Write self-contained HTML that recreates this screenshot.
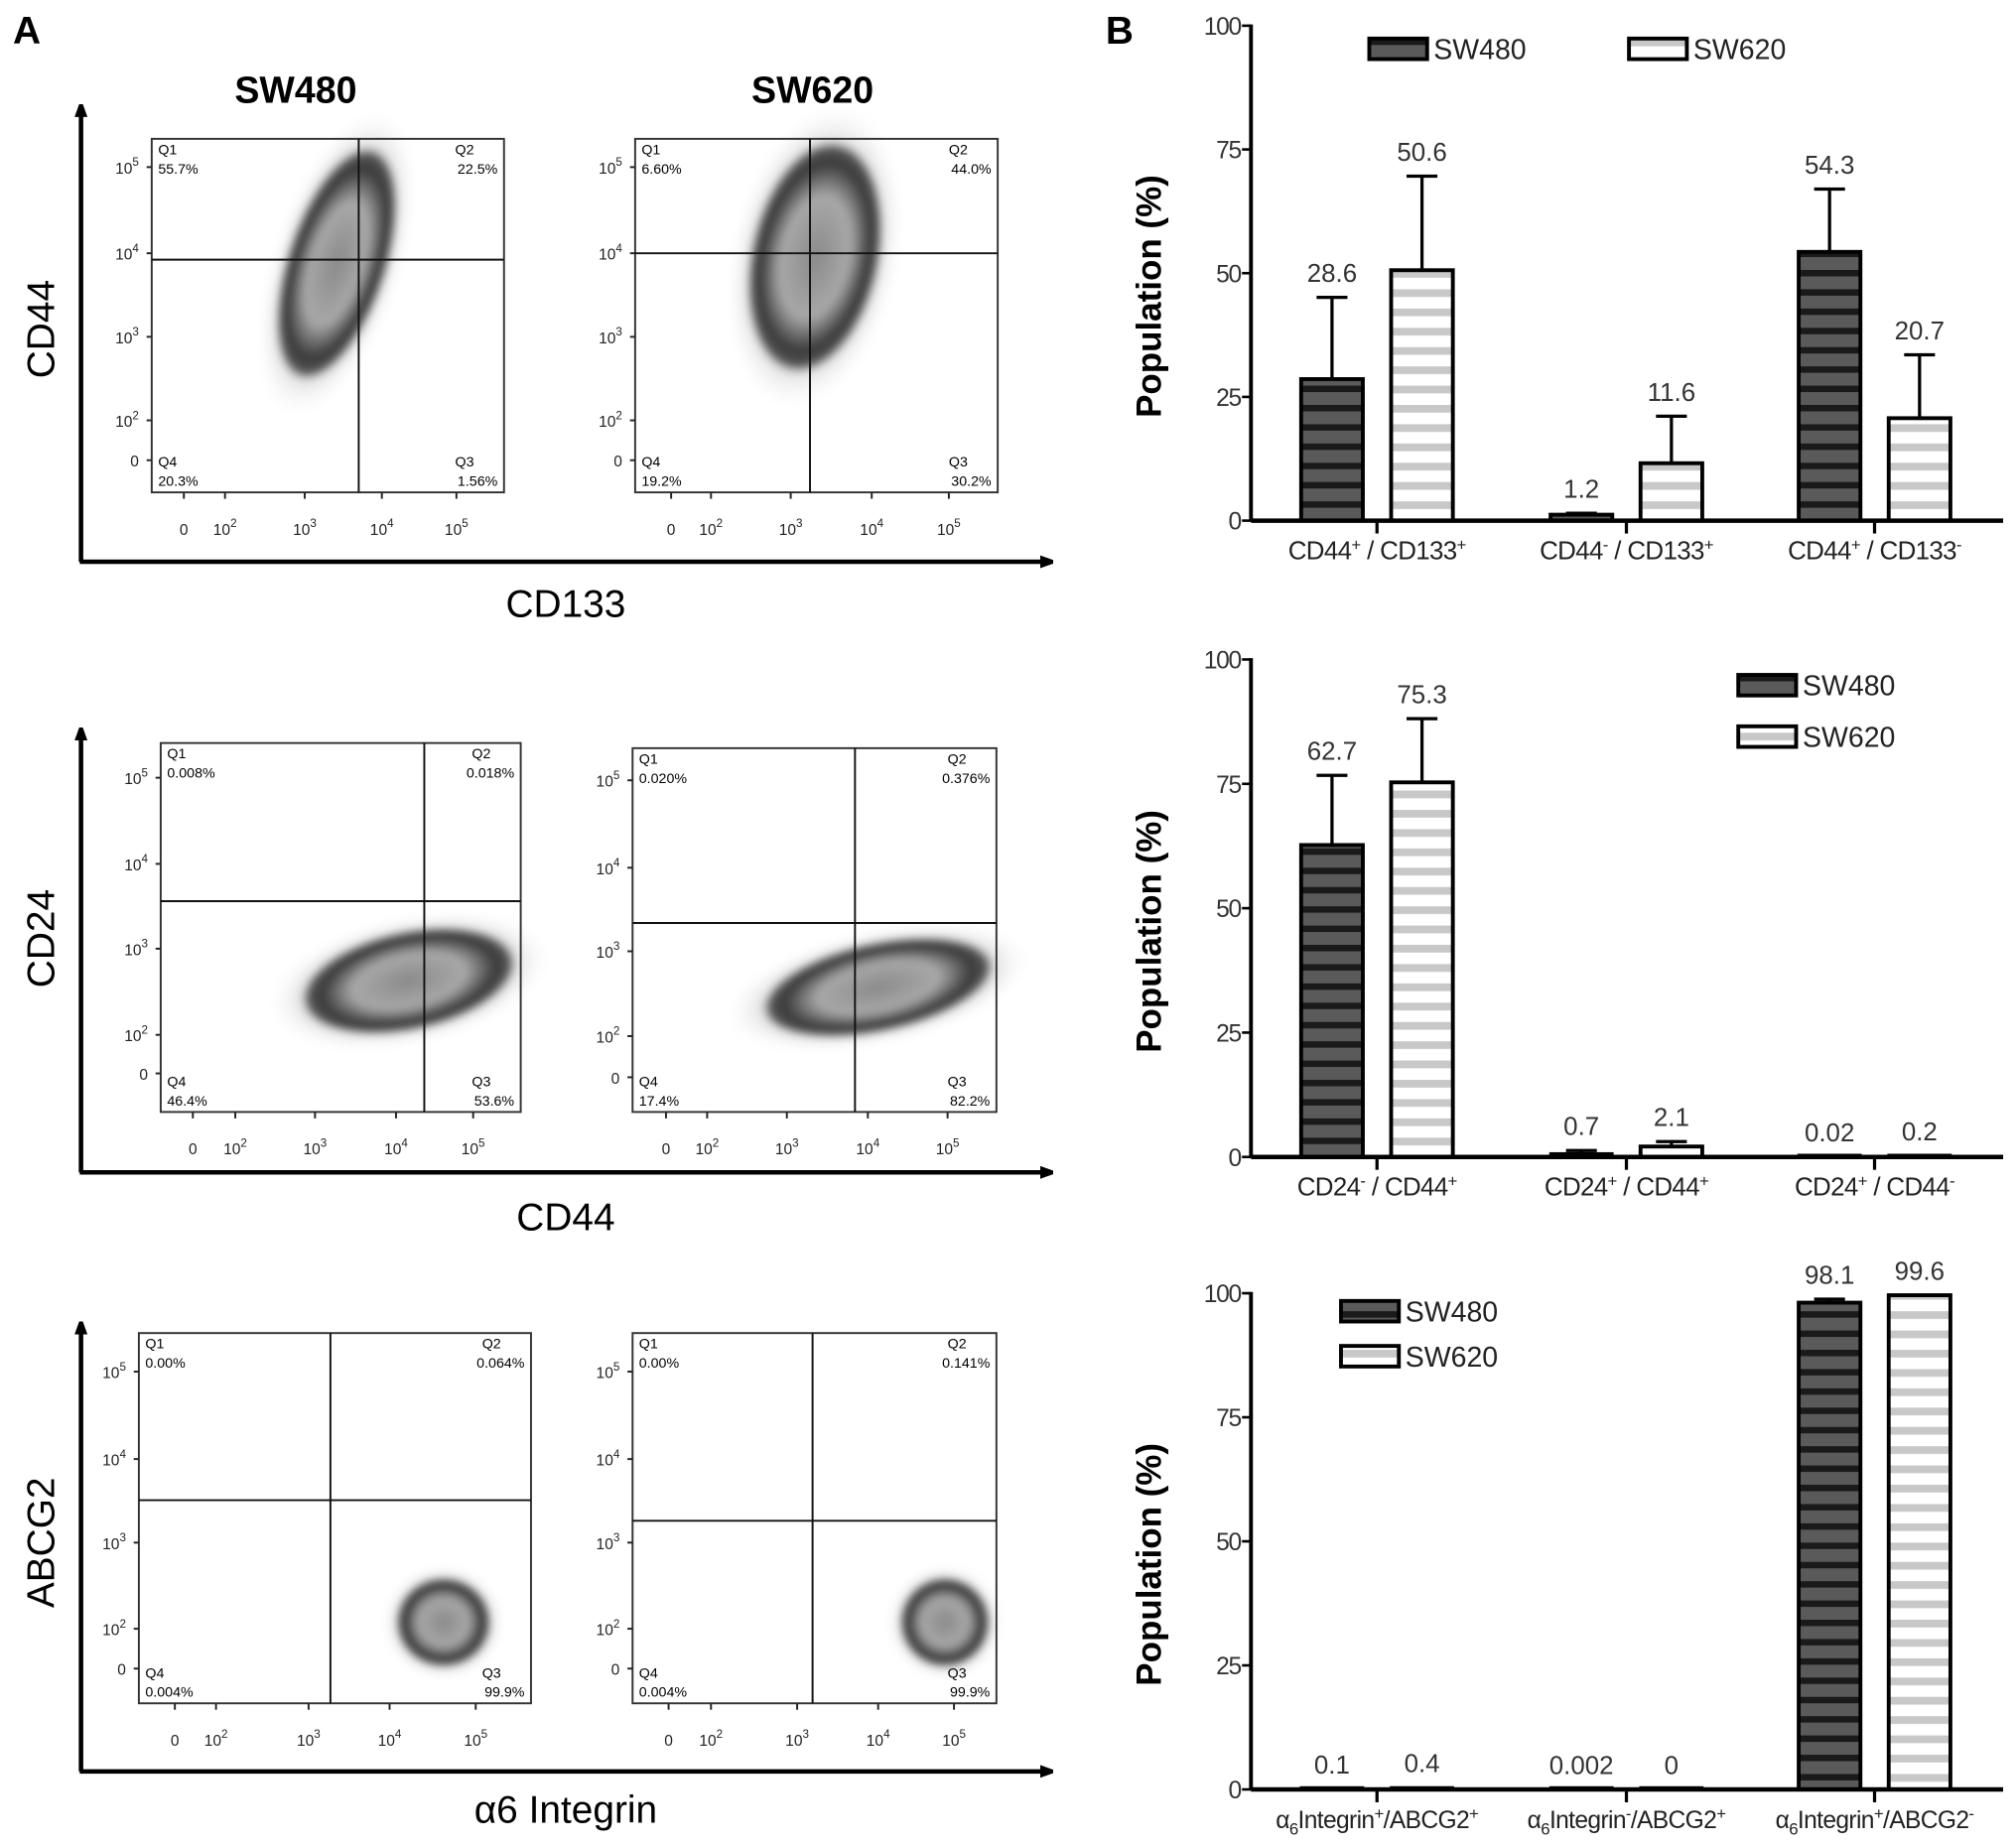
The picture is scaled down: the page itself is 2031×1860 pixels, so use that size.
<!DOCTYPE html>
<html><head><meta charset="utf-8">
<style>
html,body{margin:0;padding:0;background:#fff;}
svg{display:block;}
text{font-family:"Liberation Sans",sans-serif;}
</style></head>
<body>
<svg id="fig" width="2031" height="1860" viewBox="0 0 1568 1436" xmlns="http://www.w3.org/2000/svg">
<defs>
<pattern id="darkStripe" patternUnits="userSpaceOnUse" width="10" height="15">
<rect width="10" height="15" fill="#5a5a5a"/><rect y="0" width="10" height="5" fill="#1a1a1a"/>
</pattern>
<pattern id="lightStripe" patternUnits="userSpaceOnUse" width="10" height="15">
<rect width="10" height="15" fill="#fff"/><rect y="0" width="10" height="6" fill="#c8c8c8"/>
</pattern>
<radialGradient id="cloud" cx="0.5" cy="0.5" r="0.5">
<stop offset="0" stop-color="#8a8a8a"/><stop offset="0.5" stop-color="#a8a8a8"/><stop offset="0.78" stop-color="#3a3a3a"/><stop offset="0.9" stop-color="#555"/><stop offset="1" stop-color="#fff" stop-opacity="0"/>
</radialGradient>
<radialGradient id="halo" cx="0.5" cy="0.5" r="0.5">
<stop offset="0.6" stop-color="#777" stop-opacity="0.5"/><stop offset="1" stop-color="#fff" stop-opacity="0"/>
</radialGradient>
<filter id="blur"><feGaussianBlur stdDeviation="3"/></filter>
<marker id="arrow" markerWidth="10" markerHeight="10" refX="2" refY="5" orient="auto" markerUnits="userSpaceOnUse"><path d="M0,0 L14,5 L0,10 Z" fill="#000"/></marker>
</defs>

<text x="10" y="34" font-size="30" font-weight="bold">A</text>
<text x="860" y="34" font-size="30" font-weight="bold">B</text>
<text x="230" y="80" font-size="29" font-weight="bold" text-anchor="middle">SW480</text>
<text x="632" y="80" font-size="29" font-weight="bold" text-anchor="middle">SW620</text>

<g id="panelA"></g>
<g id="panelB"></g>
</svg>

<script>
// ---------- Bar chart data ----------
const series = ["SW480", "SW620"];
const cats1 = [["CD44","+"," / CD133","+"],["CD44","-"," / CD133","+"],["CD44","+"," / CD133","-"]];
const sw480_1 = [28.6, 1.2, 54.3];
const sw620_1 = [50.6, 11.6, 20.7];
const err480_1 = [16.5, 0.3, 12.7];
const err620_1 = [19.0, 9.5, 12.8];
const lab480_1 = ["28.6","1.2","54.3"];
const lab620_1 = ["50.6","11.6","20.7"];

const cats2 = [["CD24","-"," / CD44","+"],["CD24","+"," / CD44","+"],["CD24","+"," / CD44","-"]];
const sw480_2 = [62.7, 0.7, 0.02];
const sw620_2 = [75.3, 2.1, 0.2];
const err480_2 = [14.0, 0.6, 0];
const err620_2 = [12.8, 1.0, 0];
const lab480_2 = ["62.7","0.7","0.02"];
const lab620_2 = ["75.3","2.1","0.2"];

const cats3 = [["+","+"],["-","+"],["+","-"]];
const sw480_3 = [0.1, 0.002, 98.1];
const sw620_3 = [0.4, 0, 99.6];
const err480_3 = [0, 0, 0.7];
const err620_3 = [0, 0, 0];
const lab480_3 = ["0.1","0.002","98.1"];
const lab620_3 = ["0.4","0","99.6"];

const yTicks = [0, 25, 50, 75, 100];

const NS = "http://www.w3.org/2000/svg";
function mk(tag, attrs, parent, txt){
  const e = document.createElementNS(NS, tag);
  for (const k in attrs) e.setAttribute(k, attrs[k]);
  if (txt !== undefined) e.textContent = txt;
  parent.appendChild(e);
  return e;
}
const B = document.getElementById("panelB");

const axisX = 973, axisRight = 1558;
const groupCenters = [1071, 1265, 1458];
const barOff = 35, barW = 48;

function drawPanel(cfg){
  const g = mk("g", {}, B);
  
  
  const y = v => cfg.y0 + (cfg.y100 - cfg.y0) * v / 100;
  const ya = mk("line", {x1:axisX, y1:y(100)-1, x2:axisX, y2:y(0), stroke:"#000","stroke-width":3}, g);
  
  
  yTicks.forEach(t => {
    mk("line", {x1:axisX-7, y1:y(t), x2:axisX, y2:y(t), stroke:"#000","stroke-width":2}, g);
    const tl = mk("text", {x:axisX-8, y:y(t)+7, "font-size":19, "text-anchor":"end", fill:"#333", "letter-spacing":"-1"}, g, String(t));
    
    
  });
  const yt = mk("text", {x:0, y:0, "font-size":27, "font-weight":"bold", "text-anchor":"middle",
    transform:`translate(903,${(y(0)+y(100))/2+18}) rotate(-90)`}, g, "Population (%)");
  
  
  cfg.cats.forEach((c, i) => {
    const cx = groupCenters[i];
    [[cfg.s1, cfg.e1, cfg.l1, -1, "url(#darkStripe)", "sw480"], [cfg.s2, cfg.e2, cfg.l2, 1, "url(#lightStripe)", "sw620"]].forEach(s => {
      const v = s[0][i], bx = cx + s[3]*barOff - barW/2;
      const top = y(v), h = Math.max(y(0)-top, 1.5);
      if (s[1][i] > 0) {
        const el = mk("line", {x1:bx+barW/2, y1:y(v+s[1][i]), x2:bx+barW/2, y2:top, stroke:"#000","stroke-width":2.5}, g);
        
        
        mk("line", {x1:bx+barW/2-12, y1:y(v+s[1][i]), x2:bx+barW/2+12, y2:y(v+s[1][i]), stroke:"#000","stroke-width":2.5}, g);
      }
      const r = mk("rect", {x:bx, y:y(0)-h, width:barW, height:h, fill:s[4], stroke:"#000","stroke-width":h>4?3:2}, g);
      
      
      const topE = s[1][i] > 0 ? y(v+s[1][i]) : top;
      const lt = mk("text", {x:bx+barW/2, y:topE-12, "font-size":20, "text-anchor":"middle", fill:"#333"}, g, s[2][i]);
      
      
    });
    mk("line", {x1:cx, y1:y(0), x2:cx, y2:y(0)+10, stroke:"#000","stroke-width":2.5}, g);
    const t = mk("text", {x:cx, y:y(0)+30, "font-size":cfg.third?19:20, "text-anchor":"middle", fill:"#222", "letter-spacing":"-0.5"}, g);
    
    
    if (cfg.third) {
      mk("tspan", {}, t, "α");
      mk("tspan", {"font-size":13, dy:5}, t, "6");
      mk("tspan", {dy:-5}, t, "Integrin");
      mk("tspan", {"font-size":13, dy:-7}, t, c[0]);
      mk("tspan", {dy:7}, t, "/ABCG2");
      mk("tspan", {"font-size":13, dy:-7}, t, c[1]);
    } else {
      mk("tspan", {}, t, c[0]);
      mk("tspan", {"font-size":13, dy:-7}, t, c[1]);
      mk("tspan", {dy:7}, t, c[2]);
      mk("tspan", {"font-size":13, dy:-7}, t, c[3]);
    }
  });
  const xa = mk("line", {x1:axisX, y1:y(0), x2:axisRight, y2:y(0), stroke:"#000","stroke-width":3.5}, g);
  
  
  cfg.legend.forEach((L, k) => {
    const sw = mk("rect", {x:L[0], y:L[1], width:45, height:16, fill:k?"url(#lightStripe)":"url(#darkStripe)", stroke:"#000","stroke-width":3}, g);
    
    
    const lt = mk("text", {x:L[0]+50, y:L[1]+16, "font-size":22, fill:"#222"}, g, series[k]);
    
    
  });
}

drawPanel({name:"chart-cd44-cd133", y0:405, y100:20, cats:cats1, s1:sw480_1, s2:sw620_1, e1:err480_1, e2:err620_1, l1:lab480_1, l2:lab620_1, legend:[[1065,30],[1267,30]]});
drawPanel({name:"chart-cd24-cd44", y0:900, y100:513, cats:cats2, s1:sw480_2, s2:sw620_2, e1:err480_2, e2:err620_2, l1:lab480_2, l2:lab620_2, legend:[[1352,525],[1352,565]]});
drawPanel({name:"chart-integrin-abcg2", y0:1392, y100:1006, cats:cats3, s1:sw480_3, s2:sw620_3, e1:err480_3, e2:err620_3, l1:lab480_3, l2:lab620_3, legend:[[1043,1012],[1043,1047]], third:true});

// ---------- Flow cytometry panels (static illustration) ----------
const A = document.getElementById("panelA");
const plots = [
 {box:[118,108,392,383], v:279, h:202, q:["55.7%","22.5%","1.56%","20.3%"], cloud:[262,205,40,98,18], yl:[130,197,262,327,358], xl:[143,175,237,297,355]},
 {box:[494,108,776,383], v:630, h:197, q:["6.60%","44.0%","30.2%","19.2%"], cloud:[634,200,52,95,12], yl:[130,197,262,327,358], xl:[522,553,615,678,738]},
 {box:[125,578,405,865], v:330, h:701, q:["0.008%","0.018%","53.6%","46.4%"], cloud:[318,763,88,40,-12], yl:[605,672,738,805,835], xl:[150,183,245,308,368]},
 {box:[492,582,775,865], v:665, h:718, q:["0.020%","0.376%","82.2%","17.4%"], cloud:[683,768,95,36,-12], yl:[607,675,740,806,838], xl:[518,550,612,675,737]},
 {box:[108,1037,413,1325], v:257, h:1167, q:["0.00%","0.064%","99.9%","0.004%"], cloud:[345,1262,38,36,0], yl:[1067,1135,1200,1267,1298], xl:[136,168,240,303,370]},
 {box:[492,1037,775,1325], v:632, h:1183, q:["0.00%","0.141%","99.9%","0.004%"], cloud:[735,1262,36,36,0], yl:[1067,1135,1200,1267,1298], xl:[520,553,620,683,742]}
];
const expo = ["5","4","3","2"];
plots.forEach((p, i) => {
  const g = mk("g", {}, A);
  
  
  const [x1,y1,x2,y2] = p.box, c = p.cloud;
  mk("ellipse", {cx:c[0], cy:c[1], rx:c[2]*1.3, ry:c[3]*1.3, fill:"url(#halo)", filter:"url(#blur)", transform:`rotate(${c[4]} ${c[0]} ${c[1]})`}, g);
  mk("ellipse", {cx:c[0], cy:c[1], rx:c[2], ry:c[3], fill:"url(#cloud)", filter:"url(#blur)", transform:`rotate(${c[4]} ${c[0]} ${c[1]})`}, g);
  mk("rect", {x:x1, y:y1, width:x2-x1, height:y2-y1, fill:"none", stroke:"#333", "stroke-width":1.5}, g);
  mk("line", {x1:p.v, y1:y1, x2:p.v, y2:y2, stroke:"#111", "stroke-width":1.5}, g);
  mk("line", {x1:x1, y1:p.h, x2:x2, y2:p.h, stroke:"#111", "stroke-width":1.5}, g);
  const fs = 11;
  mk("text", {x:x1+5, y:y1+12, "font-size":fs}, g, "Q1");
  mk("text", {x:x1+5, y:y1+27, "font-size":fs}, g, p.q[0]);
  mk("text", {x:x2-38, y:y1+12, "font-size":fs}, g, "Q2");
  mk("text", {x:x2-5, y:y1+27, "font-size":fs, "text-anchor":"end"}, g, p.q[1]);
  mk("text", {x:x2-38, y:y2-20, "font-size":fs}, g, "Q3");
  mk("text", {x:x2-5, y:y2-5, "font-size":fs, "text-anchor":"end"}, g, p.q[2]);
  mk("text", {x:x1+5, y:y2-20, "font-size":fs}, g, "Q4");
  mk("text", {x:x1+5, y:y2-5, "font-size":fs}, g, p.q[3]);
  p.yl.forEach((yy, k) => {
    const t = mk("text", {x:x1-10, y:yy+5, "font-size":12, "text-anchor":"end", fill:"#222"}, g);
    if (k < 4) { mk("tspan", {}, t, "10"); mk("tspan", {"font-size":9, dy:-6}, t, expo[k]); }
    else t.textContent = "0";
    mk("line", {x1:x1-4, y1:yy, x2:x1, y2:yy, stroke:"#222", "stroke-width":1.5}, g);
  });
  p.xl.forEach((xx, k) => {
    const t = mk("text", {x:xx, y:y2+33, "font-size":12, "text-anchor":"middle", fill:"#222"}, g);
    if (k > 0) { mk("tspan", {}, t, "10"); mk("tspan", {"font-size":9, dy:-6}, t, expo[4-k]); }
    else t.textContent = "0";
    mk("line", {x1:xx, y1:y2, x2:xx, y2:y2+5, stroke:"#222", "stroke-width":1.5}, g);
  });
});
const rows = [
 {top:75, base:437, ylab:"CD44", xlab:"CD133", ycen:256, xlabY:480},
 {top:560, base:912, ylab:"CD24", xlab:"CD44", ycen:730, xlabY:957},
 {top:1022, base:1378, ylab:"ABCG2", xlab:"α6 Integrin", ycen:1200, xlabY:1418}
];
rows.forEach(r => {
  const va = mk("line", {x1:63, y1:r.base, x2:63, y2:r.top+14, stroke:"#000", "stroke-width":3.5, "marker-end":"url(#arrow)"}, A);
  
  
  const ha = mk("line", {x1:62, y1:r.base, x2:811, y2:r.base, stroke:"#000", "stroke-width":3.5, "marker-end":"url(#arrow)"}, A);
  
  
  const yl = mk("text", {x:0, y:0, "font-size":30, "text-anchor":"middle", transform:`translate(42,${r.ycen}) rotate(-90)`}, A, r.ylab);
  
  
  const xl = mk("text", {x:440, y:r.xlabY, "font-size":30, "text-anchor":"middle"}, A, r.xlab);
  
  
});
</script>
</body></html>
